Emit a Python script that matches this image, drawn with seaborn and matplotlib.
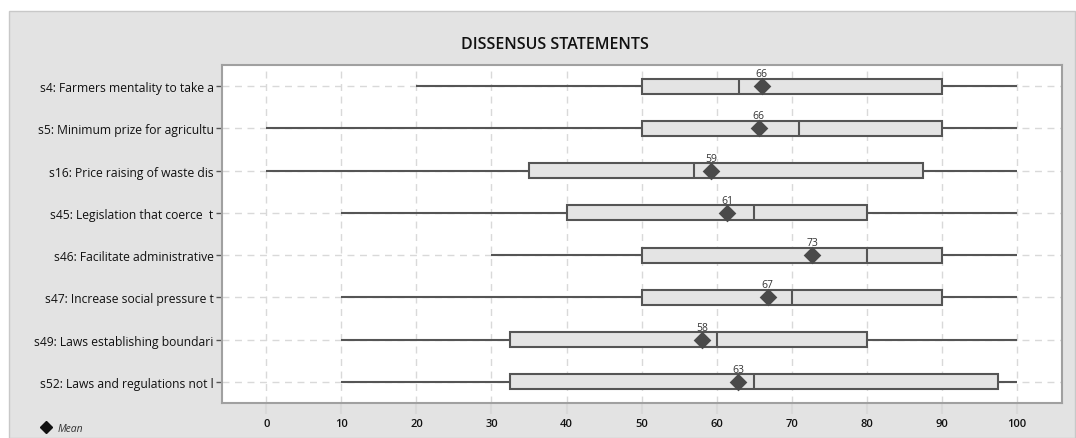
import matplotlib
matplotlib.use("Agg")
import matplotlib.pyplot as plt
from matplotlib.patches import Rectangle
from matplotlib.lines import Line2D
import numpy as np
import pandas as pd
import seaborn as sns

# Five-number summaries and means per statement
statements = [
    "s4: Farmers mentality to take a",
    "s5: Minimum prize for agricultu",
    "s16: Price raising of waste dis",
    "s45: Legislation that coerce  t",
    "s46: Facilitate administrative",
    "s47: Increase social pressure t",
    "s49: Laws establishing boundari",
    "s52: Laws and regulations not l",
]
whisker_low = [20, 0, 0, 10, 30, 10, 10, 10]
q1 = [50, 50, 35, 40, 50, 50, 32.5, 32.5]
median = [63, 71, 57, 65, 80, 70, 60, 65]
q3 = [90, 90, 87.5, 80, 90, 90, 80, 97.5]
whisker_high = [100, 100, 100, 100, 100, 100, 100, 100]
means = [66.0, 65.6, 59.3, 61.4, 72.7, 66.8, 58.1, 62.9]
x_ticks = [0, 10, 20, 30, 40, 50, 60, 70, 80, 90, 100]

rows = []
for i, s in enumerate(statements):
    for v in (whisker_low[i], q1[i], median[i], q3[i], whisker_high[i]):
        rows.append({"statement": s, "value": v})
df = pd.DataFrame(rows)

sns.set_theme(style="white")
plt.rcParams["font.family"] = ["Open Sans", "DejaVu Sans"]

DARK = "#555555"
BOX_FILL = "#e4e4e4"
PANEL = "#e3e3e3"

fig = plt.figure(figsize=(10.76, 4.39), dpi=100)
fig.patch.set_facecolor("white")
fig.patches.append(Rectangle((9 / 1076, 0), 1066 / 1076, 1 - 12 / 439,
                             transform=fig.transFigure, facecolor=PANEL,
                             edgecolor="#c8c8c8", linewidth=1, zorder=-10))

ax = fig.add_axes([222 / 1076, 1 - 404 / 439, 840 / 1076, 338 / 439])
ax.set_facecolor("white")

sns.boxplot(data=df, x="value", y="statement", order=statements,
            whis=(0, 100), width=0.35, showcaps=False, saturation=1,
            color=BOX_FILL, linecolor=DARK, linewidth=1.5,
            medianprops={"color": DARK, "linewidth": 1.5},
            whiskerprops={"color": DARK, "linewidth": 1.5},
            ax=ax, zorder=3)

sns.stripplot(x=means, y=statements, order=statements, jitter=False,
              marker="D", size=9, color="#4a4a4a", linewidth=0,
              ax=ax, zorder=5)

for i, m in enumerate(means):
    ax.annotate(f"{m:.0f}", (m, i), xytext=(0, 5), textcoords="offset points",
                ha="center", va="bottom", fontsize=7.5, color="#333333", zorder=6)

ax.set_xlim(-5.9, 106)
ax.set_ylim(7.5, -0.5)
ax.set_xticks(x_ticks)
ax.set_xlabel("")
ax.set_ylabel("")

ax.grid(True, axis="both", linestyle=(0, (5, 4)), color="#d9d9d9", linewidth=1)
ax.set_axisbelow(True)

for sp in ax.spines.values():
    sp.set_color("#a0a0a0")
    sp.set_linewidth(1.5)

ax.tick_params(axis="y", length=4, width=1, color=DARK, labelsize=8.7,
               labelcolor="#111111", pad=2, left=True)
ax.tick_params(axis="x", length=8, width=1.5, color="#d9d9d9", labelsize=8,
               labelcolor="#111111", pad=3, bottom=True)
for lbl in ax.get_xticklabels():
    lbl.set_fontweight("semibold")

fig.text(555 / 1076, 1 - 45 / 439, "DISSENSUS STATEMENTS", ha="center",
         va="center", fontsize=11.5, fontweight="semibold", color="#111111")

# legend for the mean marker
fig.lines.append(Line2D([46 / 1076], [1 - 428 / 439], marker="D", markersize=6,
                        color="#111111", linestyle="none",
                        transform=fig.transFigure))
fig.text(58 / 1076, 1 - 430 / 439, "Mean", ha="left", va="center",
         fontsize=7.5, fontstyle="italic", color="#333333")

fig.savefig("out.png", dpi=100, facecolor=fig.get_facecolor())
